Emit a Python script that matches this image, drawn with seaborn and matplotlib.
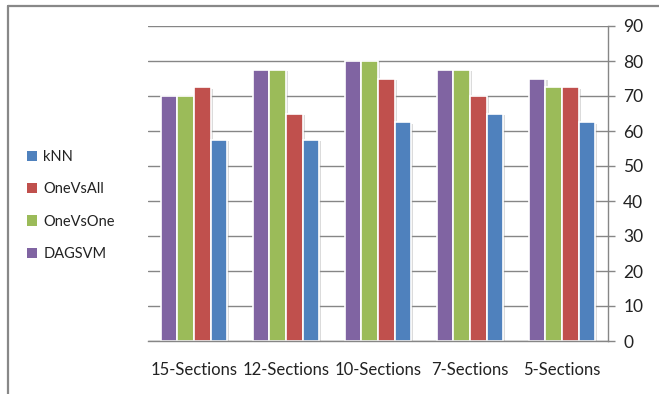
import matplotlib
matplotlib.use("Agg")
import matplotlib.pyplot as plt
import matplotlib.patheffects as pe
from matplotlib.lines import Line2D
from matplotlib.patches import Patch
import seaborn as sns
import pandas as pd

categories = ["15-Sections", "12-Sections", "10-Sections", "7-Sections", "5-Sections"]
methods = ["DAGSVM", "OneVsOne", "OneVsAll", "kNN"]
dagsvm = [70, 77.5, 80, 77.5, 75]
onevsone = [70, 77.5, 80, 77.5, 72.5]
onevsall = [72.5, 65, 75, 70, 72.5]
knn = [57.5, 57.5, 62.5, 65, 62.5]
yticks = [0, 10, 20, 30, 40, 50, 60, 70, 80, 90]

colors = {"DAGSVM": "#8064A2", "OneVsOne": "#9BBB59",
          "OneVsAll": "#C0504D", "kNN": "#4F81BD"}

series = {"DAGSVM": dagsvm, "OneVsOne": onevsone, "OneVsAll": onevsall, "kNN": knn}
df = pd.DataFrame([
    {"section": c, "method": m, "accuracy": v}
    for m in methods for c, v in zip(categories, series[m])
])

sns.set_theme(style="white")
plt.rcParams["font.family"] = ["Lato", "DejaVu Sans"]

fig = plt.figure(figsize=(6.59, 3.94), dpi=100)
ax = fig.add_axes([148 / 659, 1 - 341 / 394, 460 / 659, 315 / 394])

sns.barplot(data=df, x="section", y="accuracy", hue="method",
            hue_order=methods, order=categories, palette=colors,
            width=0.72, edgecolor="white", linewidth=1.2,
            saturation=1, ax=ax, legend=False)

for bar in ax.patches:
    bar.set_path_effects([pe.SimplePatchShadow(offset=(1.5, -1), shadow_rgbFace="#999999", alpha=0.35),
                          pe.Normal()])

grid_c = "#868686"
ax.set_ylim(0, 90)
ax.set_xlim(-0.5, len(categories) - 0.5)
ax.set_yticks(yticks)
ax.yaxis.tick_right()
ax.grid(axis="y", color=grid_c, linewidth=1)
ax.set_axisbelow(True)

for s in ["left", "top"]:
    ax.spines[s].set_visible(False)
for s in ["right", "bottom"]:
    ax.spines[s].set_color(grid_c)
    ax.spines[s].set_linewidth(1)

ax.tick_params(axis="y", which="major", direction="out", length=5, width=1,
               color=grid_c, pad=6, labelsize=12.5, labelcolor="#222222")
ax.set_xticks([i - 0.5 for i in range(len(categories) + 1)], minor=True)
ax.tick_params(axis="x", which="minor", direction="out", length=5, width=1, color=grid_c)
ax.tick_params(axis="x", which="major", length=0, pad=15, labelsize=12, labelcolor="#222222")
ax.set_xlabel("")
ax.set_ylabel("")

handles = [Patch(facecolor=colors[m], edgecolor="none") for m in reversed(methods)]
fig.legend(handles, list(reversed(methods)), loc="upper left",
           bbox_to_anchor=(14 / 659, 1 - 137 / 394), frameon=False,
           fontsize=10.5, handlelength=0.7, handleheight=0.7,
           handletextpad=0.4, labelspacing=1.25, labelcolor="#222222")

fig.add_artist(Line2D([7.5 / 659, 1], [1 - 5.5 / 394, 1 - 5.5 / 394],
                      transform=fig.transFigure, color="#888888", linewidth=1.6))
fig.add_artist(Line2D([7.5 / 659, 7.5 / 659], [0, 1 - 5.5 / 394],
                      transform=fig.transFigure, color="#888888", linewidth=1.6))

fig.savefig("out.png", dpi=100)
